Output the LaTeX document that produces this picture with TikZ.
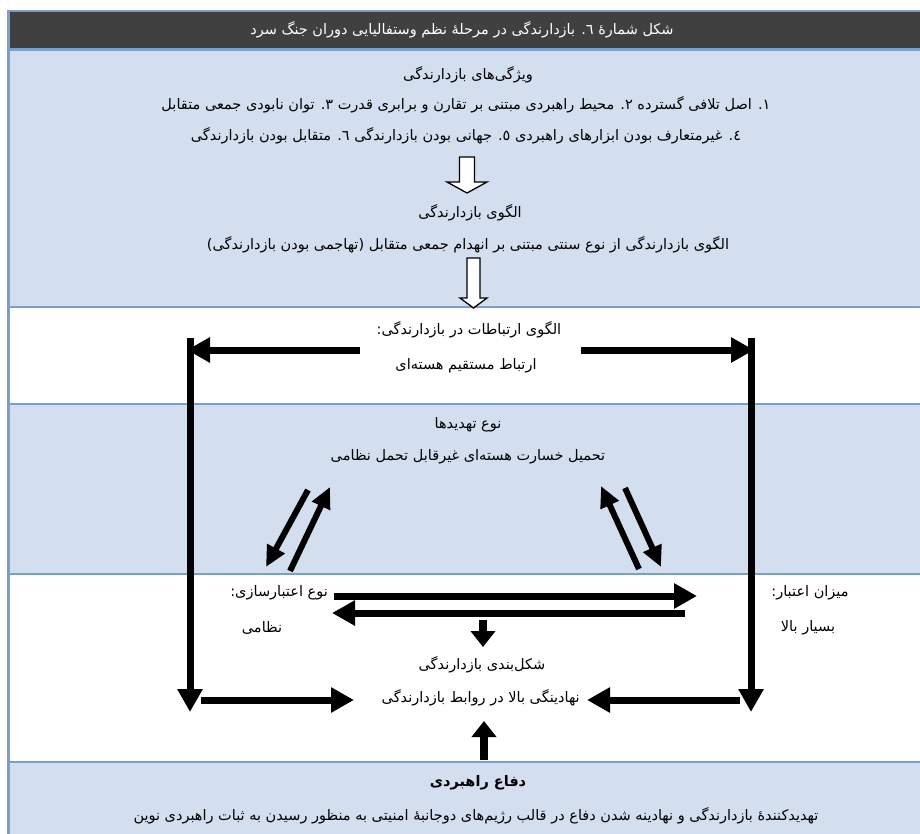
\documentclass[tikz,border=0pt]{standalone}
\usepackage{fontspec}
\TeXXeTstate=1
\newfontfamily\fafont[Script=Arabic]{DejaVu Sans}
\usetikzlibrary{arrows.meta}

\definecolor{bandblue}{HTML}{7A9FCB}
\definecolor{rowfill}{HTML}{D3DFEE}
\definecolor{headfill}{HTML}{404040}

\tikzset{
  fa/.style={font=\fafont\fontsize{14.5}{17}\selectfont, inner sep=0pt, anchor=center},
  heavy/.style={line width=7pt, -{Triangle[length=23pt,width=24pt]}},
  slim/.style={line width=6pt, -{Triangle[length=21pt,width=19pt]}},
  stub/.style={line width=8pt, -{Triangle[length=16pt,width=24pt]}},
  hollow/.style={draw=black, fill=white, line width=1.3pt, line join=miter},
  rule/.style={draw=bandblue, line width=2.5pt},
}

\begin{document}
\begin{tikzpicture}[x=1pt, y=-1pt]
\useasboundingbox (0,0) rectangle (920,834);

% table bands
\fill[headfill] (8,12) rectangle (930,48);
\fill[rowfill] (8,51) rectangle (930,306);
\fill[white] (8,308) rectangle (930,403);
\fill[rowfill] (8,405) rectangle (930,573);
\fill[white] (8,575) rectangle (930,761);
\fill[rowfill] (8,763) rectangle (930,840);

% table rules
\draw[rule] (7,11) -- (930,11);
\draw[rule, line width=3pt] (7,49.5) -- (930,49.5);
\draw[rule] (7,307) -- (930,307);
\draw[rule] (7,404) -- (930,404);
\draw[rule] (7,574) -- (930,574);
\draw[rule] (7,762) -- (930,762);
\draw[bandblue, line width=3pt] (8.5,10) -- (8.5,840);

% header
\node[fa, text=white] (title) at (462,30)
  {\beginR شکل شمارهٔ ٦. بازدارندگی در مرحلهٔ نظم وستفالیایی دوران جنگ سرد\endR};

% features of deterrence
\node[fa] (feat) at (468,75) {\beginR ویژگی‌های بازدارندگی\endR};
\node[fa] (featA) at (466,105)
  {\beginR ١. اصل تلافی گسترده ٢. محیط راهبردی مبتنی بر تقارن و برابری قدرت ٣. توان نابودی جمعی متقابل\endR};
\node[fa] (featB) at (466,136)
  {\beginR ٤. غیرمتعارف بودن ابزارهای راهبردی ٥. جهانی بودن بازدارندگی ٦. متقابل بودن بازدارندگی\endR};

% big hollow arrow
\draw[hollow] (459.5,157) -- (474.5,157) -- (474.5,182) -- (487,182) -- (467,193)
  -- (447,182) -- (459.5,182) -- cycle;

\node[fa] (model) at (470,213) {\beginR الگوی بازدارندگی\endR};
\node[fa] (modelA) at (468,245)
  {\beginR الگوی بازدارندگی از نوع سنتی مبتنی بر انهدام جمعی متقابل (تهاجمی بودن بازدارندگی)\endR};

% small hollow arrow
\draw[hollow] (467,258) -- (480,258) -- (480,298) -- (487,298) -- (473.5,308)
  -- (460,298) -- (467,298) -- cycle;

% communication pattern
\node[fa] (comm) at (469,330) {\beginR الگوی ارتباطات در بازدارندگی:\endR};
\node[fa] (commA) at (466,366) {\beginR ارتباط مستقیم هسته‌ای\endR};

% type of threats
\node[fa] (threat) at (468,425) {\beginR نوع تهدیدها\endR};
\node[fa] (threatA) at (468,457) {\beginR تحمیل خسارت هسته‌ای غیرقابل تحمل نظامی\endR};

% credibility
\node[fa, anchor=east] (cred) at (328,593) {\beginR نوع اعتبارسازی:\endR};
\node[fa] (credA) at (262,628) {\beginR نظامی\endR};
\node[fa] (level) at (810,593) {\beginR میزان اعتبار:\endR};
\node[fa] (levelA) at (808,628) {\beginR بسیار بالا\endR};

% configuration
\node[fa] (conf) at (482,665) {\beginR شکل‌بندی بازدارندگی\endR};
\node[fa, anchor=east] (confA) at (580,698) {\beginR نهادینگی بالا در روابط بازدارندگی\endR};

% strategic defence
\node[fa, font=\fafont\bfseries\fontsize{14.5}{17}\selectfont] (def) at (478,783) {\beginR دفاع راهبردی\endR};
\node[fa] (defA) at (476,816)
  {\beginR تهدیدکنندهٔ بازدارندگی و نهادینه شدن دفاع در قالب رژیم‌های دوجانبهٔ امنیتی به منظور رسیدن به ثبات راهبردی نوین\endR};

% arrow end points
\coordinate (kL) at (360,350);
\coordinate (cL) at (187,350);
\coordinate (kR) at (581,350);
\coordinate (cR) at (754,350);
\coordinate (vLt) at (190,338);
\coordinate (vLb) at (190,712);
\coordinate (vRt) at (751,338);
\coordinate (vRb) at (751,712);
\coordinate (bLs) at (201,700);
\coordinate (bLe) at (354,700);
\coordinate (bRs) at (740,700);
\coordinate (bRe) at (587,700);
\coordinate (dA1) at (308,490);
\coordinate (dA2) at (266,567);
\coordinate (dB1) at (290,571);
\coordinate (dB2) at (330,487);
\coordinate (dC1) at (639,569);
\coordinate (dC2) at (601,486);
\coordinate (dD1) at (625,488);
\coordinate (dD2) at (661,567);
\coordinate (hT1) at (334,596);
\coordinate (hT2) at (697,596);
\coordinate (hB1) at (685,613);
\coordinate (hB2) at (332,613);
\coordinate (sD1) at (483,620);
\coordinate (sD2) at (483,647);
\coordinate (sU1) at (484,760);
\coordinate (sU2) at (484,721);

% links from the communication pattern to both sides
\draw[heavy] (kL) -- (cL);
\draw[heavy] (kR) -- (cR);
\draw[heavy] (vLt) -- (vLb);
\draw[heavy] (vRt) -- (vRb);
\draw[heavy] (bLs) -- (bLe);
\draw[heavy] (bRs) -- (bRe);

% threats and credibility
\draw[slim] (dA1) -- (dA2);
\draw[slim] (dB1) -- (dB2);
\draw[slim] (dC1) -- (dC2);
\draw[slim] (dD1) -- (dD2);
\draw[heavy] (hT1) -- (hT2);
\draw[heavy] (hB1) -- (hB2);

% into the configuration
\draw[stub] (sD1) -- (sD2);
\draw[stub] (sU1) -- (sU2);
\end{tikzpicture}
\end{document}
